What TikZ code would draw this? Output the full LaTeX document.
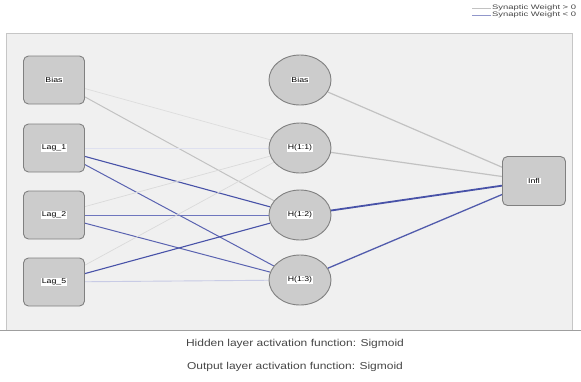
\documentclass[tikz,border=0pt]{standalone}
\usepackage{fontspec}
\setmainfont{Liberation Sans}
\usetikzlibrary{shapes.geometric,backgrounds}

\definecolor{nnblue}{RGB}{72,82,168}
\definecolor{nnbluemid}{RGB}{110,118,190}
\definecolor{nngray}{RGB}{194,194,194}
\definecolor{panelfill}{RGB}{240,240,240}
\definecolor{unitfill}{RGB}{204,204,204}
\definecolor{unitedge}{RGB}{128,128,128}
\definecolor{captext}{RGB}{70,70,70}

\newcommand\unitlbl[1]{{\setlength\fboxsep{0.8pt}\colorbox{white}{\scalebox{1.25}[1]{#1}}}}
\newcommand\widetext[2]{\scalebox{#1}[1]{#2}}

\tikzset{
  unit/.style={draw=unitedge, fill=unitfill, line width=0.9pt,
    font=\fontsize{7}{8}\selectfont, inner sep=0pt},
  inbox/.style={unit, rectangle, rounded corners=5pt,
    minimum width=61pt, minimum height=48pt},
  hidunit/.style={unit, ellipse, minimum width=62pt, minimum height=50pt},
  caption/.style={text=captext, font=\fontsize{10}{11}\selectfont},
  keytext/.style={text=captext, anchor=west, inner sep=1pt,
    font=\fontsize{6.5}{7}\selectfont},
}

\begin{document}
\begin{tikzpicture}[x=1pt,y=-1pt]
    \useasboundingbox (0,0) rectangle (581,381);

    \node (inB) at (54,80)  [inbox] {\unitlbl{Bias}};
    \node (in1) at (54,148) [inbox] {\unitlbl{Lag\_1}};
    \node (in2) at (54,215) [inbox] {\unitlbl{Lag\_2}};
    \node (in5) at (54,282) [inbox] {\unitlbl{Lag\_5}};

    \node (hB) at (300,80)  [hidunit] {\unitlbl{Bias}};
    \node (h1) at (300,148) [hidunit] {\unitlbl{H(1:1)}};
    \node (h2) at (300,215) [hidunit] {\unitlbl{H(1:2)}};
    \node (h3) at (300,280) [hidunit] {\unitlbl{H(1:3)}};

    \node (out) at (534,181) [inbox, minimum width=63pt, minimum height=49pt] {\unitlbl{Infl}};

    \begin{scope}[on background layer]
        \fill [panelfill] (6,33) rectangle (572,330);
        \draw [gray!45] (6,330) -- (6,33) -- (572,33) -- (572,330);
        \draw [gray!75, line width=0.8pt] (0,330) -- (581,330);
        \foreach \a/\b/\c/\w in {inB/h1/nngray!55/0.7, inB/h2/nngray/1.0,
                                 in1/h1/nnblue!18/0.8, in1/h2/nnblue/1.1, in1/h3/nnblue!90/1.0,
                                 in2/h1/nngray!60/0.7, in2/h2/nnbluemid/1.0, in2/h3/nnblue!90/1.0,
                                 in5/h1/nngray!60/0.7, in5/h2/nnblue/1.1, in5/h3/nnblue!30/0.9,
                                 hB/out/nngray/1.2, h1/out/nngray/1.2,
                                 h2/out/nnblue/1.8, h3/out/nnblue!95/1.3}
            \draw [draw=\c, line width=\w pt] (\a) -- (\b);
    \end{scope}

    \node (keypos) at (491,8)  [keytext] {\widetext{1.45}{Synaptic Weight > 0}};
    \node (keyneg) at (491,15) [keytext] {\widetext{1.45}{Synaptic Weight < 0}};
    \draw [nngray, line width=0.8pt] (keypos.west) -- ++(-19,0);
    \draw [nnblue!60, line width=0.8pt] (keyneg.west) -- ++(-19,0);

    \node (hidact) at (295,344) [caption] {\widetext{1.2}{Hidden layer activation function: Sigmoid}};
    \node (outact) at (295,367) [caption] {\widetext{1.2}{Output layer activation function: Sigmoid}};
\end{tikzpicture}
\end{document}
